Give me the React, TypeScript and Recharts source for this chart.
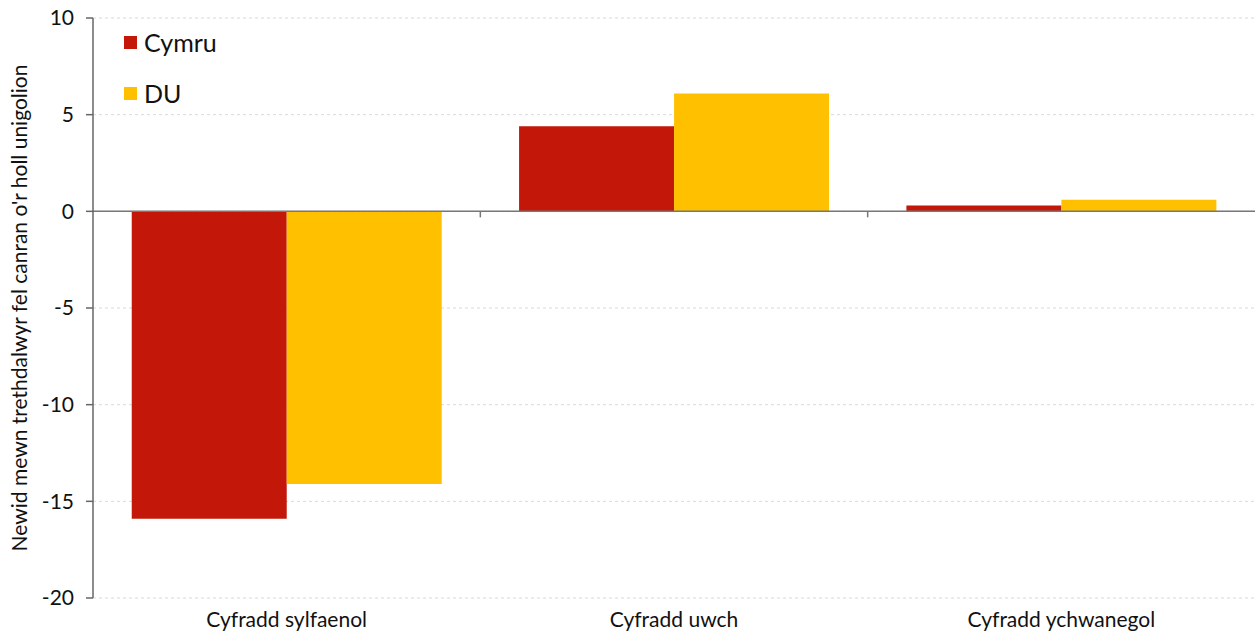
import React from 'react';
import { BarChart, Bar, XAxis, YAxis, CartesianGrid, ReferenceLine } from 'recharts';

const categories = ['Cyfradd sylfaenol', 'Cyfradd uwch', 'Cyfradd ychwanegol'];
const cymru = [-15.9, 4.4, 0.3];
const du = [-14.1, 6.1, 0.6];
const yTicks = [-20, -15, -10, -5, 0, 5, 10];
const legendItems = ['Cymru', 'DU'];

const RED = '#C3170A';
const YELLOW = '#FFC000';
const COLORS = [RED, YELLOW];
const FONT = 'Lato, "Noto Sans", sans-serif';

const data = categories.map((name, i) => ({ name, cymru: cymru[i], du: du[i] }));

// small ticks on the zero line between categories, like the Excel original
const ZeroTicks = (props: any) => {
  const vb = props.viewBox || {};
  const { x, y, width } = vb;
  if (x == null) return null;
  const n = categories.length;
  const marks = [];
  for (let i = 1; i < n; i++) {
    const px = x + (width * i) / n;
    marks.push(<line key={i} x1={px} x2={px} y1={y} y2={y + 6} stroke="#777" strokeWidth={1.5} />);
  }
  return <g>{marks}</g>;
};

export default function App() {
  return (
    <div style={{ position: 'absolute', left: 0, top: 0, background: '#fff', width: 1255, height: 639 }}>
      <BarChart
        width={1255}
        height={639}
        data={data}
        margin={{ top: 18, right: 0, left: 0, bottom: 0 }}
        barCategoryGap="10%"
        barGap={0}
      >
        <CartesianGrid horizontal vertical={false} stroke="#d9d9d9" strokeDasharray="3 3" />
        <XAxis
          dataKey="name"
          height={41}
          axisLine={false}
          tickLine={false}
          tickMargin={8}
          tick={{ fontFamily: FONT, fontSize: 21, fill: '#111' }}
        />
        <YAxis
          width={93}
          domain={[-20, 10]}
          ticks={yTicks}
          interval={0}
          axisLine={{ stroke: '#666', strokeWidth: 1.5 }}
          tickLine={{ stroke: '#666', strokeWidth: 1.5 }}
          tickSize={7}
          tickMargin={12}
          tick={{ fontFamily: FONT, fontSize: 21, fill: '#111' }}
          label={{
            value: "Newid mewn trethdalwyr fel canran o'r holl unigolion",
            angle: -90,
            position: 'insideLeft',
            offset: 20,
            style: { textAnchor: 'middle', fontFamily: FONT, fontSize: 21, fill: '#111' },
          }}
        />
        <Bar dataKey="cymru" name="Cymru" fill={RED} isAnimationActive={false} />
        <Bar dataKey="du" name="DU" fill={YELLOW} isAnimationActive={false} />
        <ReferenceLine y={0} stroke="#777" strokeWidth={1.5} label={<ZeroTicks />} />
      </BarChart>
      <div style={{ position: 'absolute', left: 124, top: 17, fontFamily: FONT, fontSize: 25, color: '#111' }}>
        {legendItems.map((label, i) => (
          <div key={label} style={{ display: 'flex', alignItems: 'center', height: 51, lineHeight: '51px' }}>
            <span style={{ width: 13, height: 13, background: COLORS[i], display: 'inline-block', marginRight: 7 }} />
            <span>{label}</span>
          </div>
        ))}
      </div>
    </div>
  );
}
